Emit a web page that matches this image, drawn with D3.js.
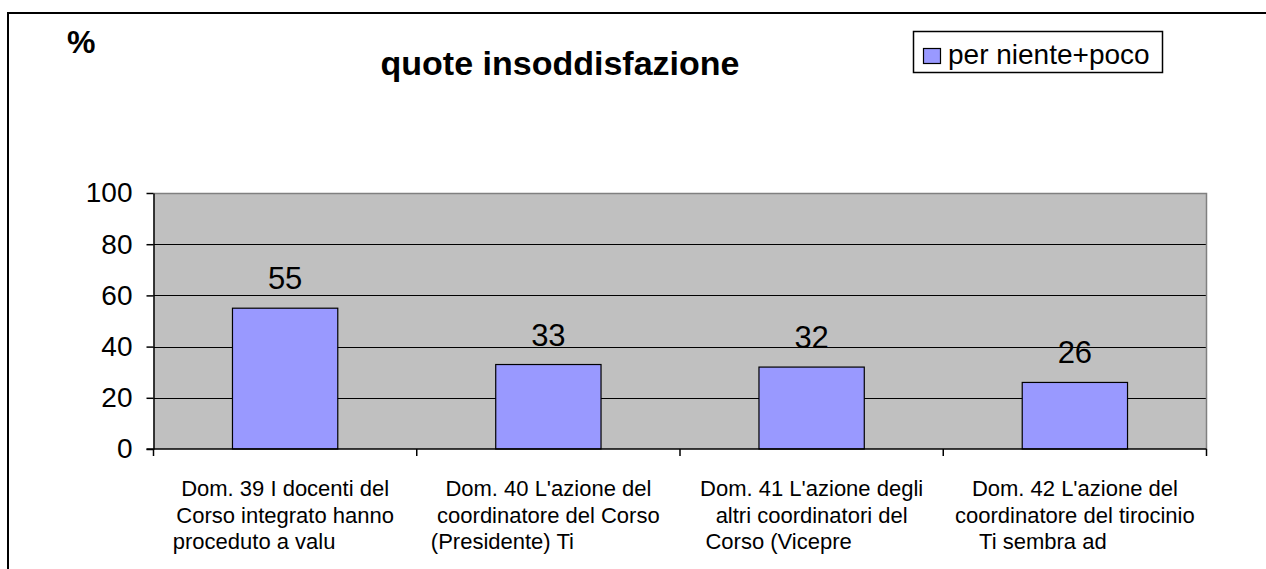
<!DOCTYPE html>
<html>
<head>
<meta charset="utf-8">
<script src="https://cdn.jsdelivr.net/npm/d3@7"></script>
<style>
  html, body { margin: 0; padding: 0; background: #fff; }
  svg { display: block; font-family: Arial, "Liberation Sans", sans-serif; }
</style>
</head>
<body>
<svg id="chart" width="1266" height="569"></svg>
<script>
// Category labels, one entry per line of the wrapped axis text
const categories = ["Dom. 39", "Dom. 40", "Dom. 41", "Dom. 42"];
const categoryLines = [
  ["Dom. 39 I docenti del", "Corso integrato hanno", "proceduto a valu"],
  ["Dom. 40 L'azione del", "coordinatore del Corso", "(Presidente) Ti"],
  ["Dom. 41 L'azione degli", "altri coordinatori del", "Corso (Vicepre"],
  ["Dom. 42 L'azione del", "coordinatore del tirocinio", "Ti sembra ad"]
];
const values = [55, 33, 32, 26];
const yTicks = [0, 20, 40, 60, 80, 100];
const seriesName = "per niente+poco";
const title = "quote insoddisfazione";
const unitLabel = "%";

// Layout
const plot = { left: 153.5, right: 1206.5, top: 193, bottom: 449 };
// Horizontal nudge of the last (truncated) line of each wrapped category label
const lastLineShift = [-31, -46, -33, -32];
const barFill = "#9999FF";
const plotFill = "#C0C0C0";

const svg = d3.select("#chart");

// Outer chart frame (runs past the right and bottom edge)
svg.append("rect")
  .attr("x", 8).attr("y", 13)
  .attr("width", 1300).attr("height", 600)
  .attr("fill", "none").attr("stroke", "#000").attr("stroke-width", 2);

const y = d3.scaleLinear().domain([0, 100]).range([plot.bottom, plot.top]);
const x = d3.scaleBand()
  .domain(categories)
  .range([plot.left, plot.right])
  .paddingInner(0.6)
  .paddingOuter(0.3);
const step = x.step();

// Plot area background
svg.append("rect")
  .attr("x", plot.left).attr("y", plot.top)
  .attr("width", plot.right - plot.left).attr("height", plot.bottom - plot.top)
  .attr("fill", plotFill);

// Horizontal gridlines
svg.append("g")
  .selectAll("line")
  .data(yTicks.filter(d => d > 0 && d < 100))
  .join("line")
  .attr("x1", plot.left).attr("x2", plot.right)
  .attr("y1", d => Math.round(y(d)) + 0.5).attr("y2", d => Math.round(y(d)) + 0.5)
  .attr("stroke", "#000").attr("stroke-width", 1.2);

// Top and right border of the plot area
svg.append("path")
  .attr("d", `M${plot.left},${y(100) + 0.5}H${plot.right}V${plot.bottom}`)
  .attr("fill", "none").attr("stroke", "#808080").attr("stroke-width", 1.5);

// Bars
svg.append("g")
  .selectAll("rect")
  .data(values)
  .join("rect")
  .attr("x", (d, i) => x(categories[i]))
  .attr("y", d => y(d))
  .attr("width", x.bandwidth())
  .attr("height", d => y(0) - y(d))
  .attr("fill", barFill)
  .attr("stroke", "#000").attr("stroke-width", 1.2);

// Value labels
svg.append("g")
  .selectAll("text")
  .data(values)
  .join("text")
  .attr("x", (d, i) => x(categories[i]) + x.bandwidth() / 2)
  .attr("y", d => y(d) - 19)
  .attr("text-anchor", "middle")
  .attr("font-size", 31)
  .attr("fill", "#000")
  .text(d => d);

// Y axis
const yAxis = svg.append("g")
  .attr("transform", `translate(${plot.left},0)`)
  .call(d3.axisLeft(y).tickValues(yTicks).tickSize(7).tickPadding(14).tickSizeOuter(0));
yAxis.select(".domain").attr("stroke", "#000").attr("stroke-width", 1.5);
yAxis.selectAll(".tick line").attr("stroke", "#000").attr("stroke-width", 1.5);
yAxis.selectAll(".tick text")
  .attr("font-size", 28).attr("fill", "#000")
  .attr("font-family", "Arial, 'Liberation Sans', sans-serif");

// X axis: line plus ticks at the category boundaries
const xAxis = svg.append("g");
xAxis.append("line")
  .attr("x1", plot.left - 7).attr("x2", plot.right)
  .attr("y1", plot.bottom).attr("y2", plot.bottom)
  .attr("stroke", "#000").attr("stroke-width", 1.5);
xAxis.selectAll("line.tk")
  .data(d3.range(categories.length + 1))
  .join("line")
  .attr("class", "tk")
  .attr("x1", i => plot.left + i * step).attr("x2", i => plot.left + i * step)
  .attr("y1", plot.bottom).attr("y2", plot.bottom + 7)
  .attr("stroke", "#000").attr("stroke-width", 1.5);

// Wrapped category labels
const catGroups = svg.append("g")
  .selectAll("text")
  .data(categoryLines)
  .join("text")
  .attr("text-anchor", "middle")
  .attr("font-size", 22)
  .attr("fill", "#000");
catGroups.each(function (lines, ci) {
  const cx = x(categories[ci]) + x.bandwidth() / 2;
  d3.select(this).selectAll("tspan")
    .data(lines)
    .join("tspan")
    .attr("x", (l, li) => cx + (li === lines.length - 1 ? lastLineShift[ci] : 0))
    .attr("y", (l, li) => 496 + li * 26.5)
    .text(l => l);
});

// Title
svg.append("text")
  .attr("x", 560).attr("y", 75)
  .attr("text-anchor", "middle")
  .attr("font-size", 34).attr("font-weight", "bold")
  .text(title);

// Unit label
svg.append("text")
  .attr("x", 67).attr("y", 53)
  .attr("font-size", 32).attr("font-weight", "bold")
  .text(unitLabel);

// Legend
const legend = svg.append("g");
legend.append("rect")
  .attr("x", 913.5).attr("y", 31.5).attr("width", 249).attr("height", 41)
  .attr("fill", "#fff").attr("stroke", "#000").attr("stroke-width", 1.5);
legend.append("rect")
  .attr("x", 923.5).attr("y", 48.5).attr("width", 17).attr("height", 15)
  .attr("fill", barFill).attr("stroke", "#000").attr("stroke-width", 1.2);
legend.append("text")
  .attr("x", 948).attr("y", 63.5)
  .attr("font-size", 28)
  .text(seriesName);
</script>
</body>
</html>
